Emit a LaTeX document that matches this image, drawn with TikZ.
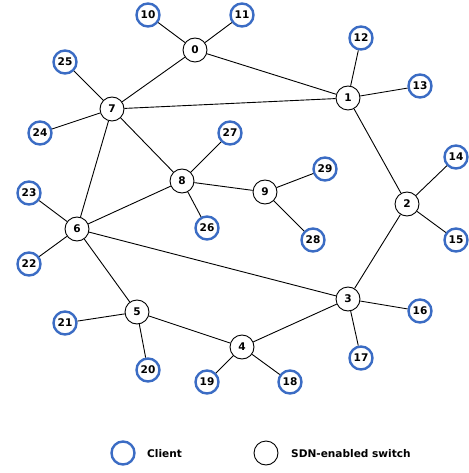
\documentclass[tikz,border=0pt]{standalone}
\usepackage{fontspec}
\setmainfont{DejaVu Sans}
\definecolor{clientblue}{HTML}{3B6CC4}
\begin{document}
\begin{tikzpicture}[x=1bp,y=-1bp,
  sw/.style={circle,draw=black,line width=0.9bp,fill=white,minimum size=24bp,inner sep=0pt,font=\fontsize{10.6}{10.6}\selectfont\bfseries},
  cl/.style={circle,draw=clientblue,line width=2.4bp,fill=white,minimum size=23bp,inner sep=0pt,font=\fontsize{10.6}{10.6}\selectfont\bfseries},
  lnk/.style={draw=black,line width=0.9bp},
  lbl/.style={anchor=west,inner sep=0pt,font=\fontsize{10.6}{10.6}\selectfont\bfseries}]
\useasboundingbox (0,0) rectangle (469,473);
% switches
\node[sw] (s0) at (195,50) {0};
\node[sw] (s1) at (348,98) {1};
\node[sw] (s2) at (407,204) {2};
\node[sw] (s3) at (348,299) {3};
\node[sw] (s4) at (242,347) {4};
\node[sw] (s5) at (137,312) {5};
\node[sw] (s6) at (77,229) {6};
\node[sw] (s7) at (112,109) {7};
\node[sw] (s8) at (182,181) {8};
\node[sw] (s9) at (265,192) {9};
% clients
\node[cl] (c10) at (148,15) {10};
\node[cl] (c11) at (242,15) {11};
\node[cl] (c12) at (361,38) {12};
\node[cl] (c13) at (420,86) {13};
\node[cl] (c14) at (456,157) {14};
\node[cl] (c15) at (456,240) {15};
\node[cl] (c16) at (420,311) {16};
\node[cl] (c17) at (361,358) {17};
\node[cl] (c18) at (290,382) {18};
\node[cl] (c19) at (207,382) {19};
\node[cl] (c20) at (148,370) {20};
\node[cl] (c21) at (65,323) {21};
\node[cl] (c22) at (29,264) {22};
\node[cl] (c23) at (29,193) {23};
\node[cl] (c24) at (40,133) {24};
\node[cl] (c25) at (65,62) {25};
\node[cl] (c26) at (207,228) {26};
\node[cl] (c27) at (230,133) {27};
\node[cl] (c28) at (313,240) {28};
\node[cl] (c29) at (325,169) {29};
% links
\foreach \a/\b in {s0/c10,s0/c11,s0/s7,s0/s1,s1/s7,s1/c12,s1/c13,s1/s2,s2/c14,s2/c15,s2/s3,
  s3/s6,s3/s4,s3/c16,s3/c17,s4/s5,s4/c18,s4/c19,s5/s6,s5/c20,s5/c21,s6/s7,s6/s8,s6/c22,s6/c23,
  s7/s8,s7/c24,s7/c25,s8/s9,s8/c26,s8/c27,s9/c28,s9/c29}
  \draw[lnk] (\a) -- (\b);
% legend
\node[cl] (lc) at (123,453) {};
\node[lbl] (lct) at (147,454) {Client};
\node[sw] (ls) at (266,453) {};
\node[lbl] (lst) at (291,454) {SDN-enabled switch};
\end{tikzpicture}
\end{document}
